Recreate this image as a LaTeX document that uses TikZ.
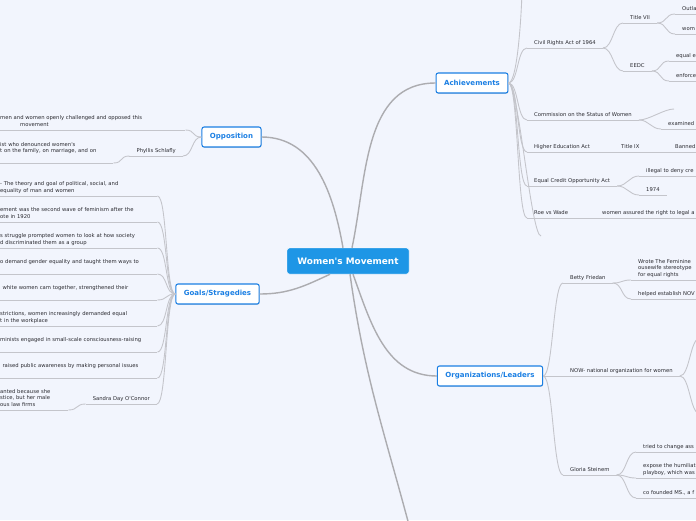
\documentclass[tikz,border=0pt]{standalone}
\usepackage{fontspec}
\usepackage{tikz}
\usetikzlibrary{shadows}
\newfontfamily\dejavu{DejaVu Sans}
\definecolor{bgcol}{RGB}{242,245,253}
\definecolor{rootcol}{RGB}{30,150,230}
\definecolor{bluecol}{RGB}{27,127,227}
\definecolor{txtcol}{RGB}{42,42,48}
\definecolor{maincol}{RGB}{172,172,176}
\definecolor{subcol}{RGB}{196,197,203}

\begin{document}
\begin{tikzpicture}[x=0.03cm,y=-0.03cm]
\tikzstyle{main}=[draw=maincol,line width=1.2pt]
\tikzstyle{sub}=[draw=subcol,line width=0.75pt]
\tikzstyle{rcurve}=[out=0,in=180,distance=0.3cm]
\tikzstyle{lcurve}=[out=180,in=0,distance=0.3cm]
\tikzstyle{root}=[fill=rootcol,draw=white,line width=0.4pt,rounded corners=2pt,text=white,font=\dejavu\bfseries\fontsize{7.6}{8}\selectfont,minimum width=3.66cm,minimum height=0.78cm]
\tikzstyle{branch}=[draw=bluecol,line width=0.9pt,fill=white,rounded corners=1.8pt,text=bluecol,font=\dejavu\bfseries\fontsize{6}{7}\selectfont,inner xsep=0.24cm,minimum height=0.6cm,drop shadow={shadow xshift=0.4pt,shadow yshift=-0.7pt,opacity=0.25}]
\tikzstyle{leaf}=[anchor=south west,font=\dejavu\fontsize{4.5}{5.4}\selectfont,text=txtcol,align=left,inner xsep=0.21cm,inner ysep=1.5pt,execute at end node=\strut,append after command={(\tikzlastnode.south west) edge[sub] (\tikzlastnode.south east)}]
\tikzstyle{rleaf}=[leaf,anchor=south east]
\tikzstyle{wleaf}=[leaf,inner xsep=0pt,text width=#1]

\useasboundingbox (0,0) rectangle (696,520);
\fill[bgcol] (0,0) rectangle (696,520);

\node[root](R) at(348,261){Women\textquotesingle s Movement};
\node[branch](O) at(231.5,137){Opposition};
\node[branch](G) at(217.5,294){Goals/Stragedies};
\node[branch](A) at(472,83){Achievements};
\node[branch](L) at(490,376){Organizations/Leaders};
\coordinate (bot) at(409,525);

\node[leaf](civ) at(527,48){Civil Rights Act of 1964};
\node[leaf](t7) at(623,23){Title VII};
\node[leaf](outla) at(675,14){Outla};
\node[leaf](wom) at(675,34){wom};
\node[leaf](eedc) at(623,71){EEDC};
\node[leaf](equal) at(669,61){equal e};
\node[leaf](enforce) at(669,81){enforce};
\node[leaf](com) at(527,120){Commission on the Status of Women};
\coordinate (comtop) at(674,109);
\node[leaf](exam) at(661,129){examined};
\node[leaf](hea) at(527,152){Higher Education Act};
\node[leaf](t9) at(614,152){Title IX};
\node[leaf](banned) at(668,152){Banned};
\node[leaf](eco) at(527,186){Equal Credit Opportunity Act};
\node[leaf](illegal) at(639,176){illegal to deny cre};
\node[leaf](y1974) at(639,195){1974};
\node[leaf](roe) at(527,218){Roe vs Wade};
\node[leaf](assured) at(595,218){women assured the right to legal a};
\coordinate (achtop) at(522,-10);
\coordinate (achend) at(541,236);

\node[leaf](betty) at(563,283){Betty Friedan};
\node[leaf](wrote) at(631,280){Wrote The Feminine\\ousewife stereotype\\for equal rights};
\node[leaf](helped) at(631,299){helped establish NOV};
\node[leaf](now) at(563,376){NOW- national organization for women};
\coordinate (nowup) at(700,338);
\coordinate (nowdn) at(700,414);
\node[leaf](gloria) at(563,475){Gloria Steinem};
\node[leaf](tried) at(636,452){tried to change ass};
\node[leaf](expose) at(636,478){expose the humiliat\\playboy, which was};
\node[leaf](cofound) at(636,498){co founded MS., a f};

\node[wleaf=5.55cm](o1) at(0,130){men and women openly challenged and opposed this\\\hspace*{0.6cm}movement};
\node[rleaf](phyl) at(183,156){Phyllis Schlafly};
\node[wleaf=3.39cm](o2) at(0,163){ist who denounced women\textquotesingle s\\t on the family, on marriage, and on\\\mbox{}};

\node[wleaf=4.71cm](g1) at(0,196){- The theory and goal of political, social, and\\equality of man and women};
\node[wleaf=4.71cm](g2) at(0,222){ement was the second wave of feminism after the\\ote in 1920};
\node[wleaf=4.71cm](g3) at(0,248){s struggle prompted women to look at how society\\d discriminated them as a group};
\node[wleaf=4.71cm](g4) at(0,274){o demand gender equality and taught them ways to\\\mbox{}};
\node[wleaf=4.71cm](g5) at(0,300){\hspace*{2pt}white women cam together, strengthened their\\\mbox{}};
\node[wleaf=4.71cm](g6) at(0,326){strictions, women increasingly demanded equal\\t in the workplace};
\node[wleaf=4.71cm](g7) at(0,352){minists engaged in small-scale consciousness-raising\\\mbox{}};
\node[wleaf=4.71cm](g8) at(0,378){\hspace*{2pt}raised public awareness by making personal issues\\\mbox{}};
\node[rleaf](sdo) at(157,404){Sandra Day O\textquotesingle Connor};
\node[wleaf=2.04cm](sdo1) at(0,410){anted because she\\stice, but her male\\ous law firms};

\draw[main] ([xshift=-0.15cm]R.north) to[out=100,in=0] (O.east);
\draw[main] ([xshift=0.12cm]R.north) to[out=78,in=180] (A.west);
\draw[main] ([xshift=-0.54cm]R.south) to[out=205,in=0] (G.east);
\draw[main] ([xshift=0.15cm]R.south) to[out=-70,in=180] (L.west);
\draw[main] ([xshift=0.06cm]R.south) to[out=-82,in=105] (bot);

\draw[sub] (A.east) to[out=0,in=-90,distance=0.3cm] (achtop);
\draw[sub] (A.east) to[rcurve] (civ.south west);
\draw[sub] (A.east) to[rcurve] (com.south west);
\draw[sub] (A.east) to[rcurve] (hea.south west);
\draw[sub] (A.east) to[rcurve] (eco.south west);
\draw[sub] (A.east) to[rcurve] (roe.south west);
\draw[sub] (A.east) to[rcurve] (achend);
\draw[sub] (civ.south east) to[rcurve] (t7.south west);
\draw[sub] (civ.south east) to[rcurve] (eedc.south west);
\draw[sub] (t7.south east) to[rcurve] (outla.south west);
\draw[sub] (t7.south east) to[rcurve] (wom.south west);
\draw[sub] (eedc.south east) to[rcurve] (equal.south west);
\draw[sub] (eedc.south east) to[rcurve] (enforce.south west);
\draw[sub] (com.south east) to[rcurve] (comtop);
\draw[sub] (com.south east) to[rcurve] (exam.south west);
\draw[sub] (hea.south east) -- (t9.south west);
\draw[sub] (t9.south east) -- (banned.south west);
\draw[sub] (eco.south east) to[rcurve] (illegal.south west);
\draw[sub] (eco.south east) to[rcurve] (y1974.south west);
\draw[sub] (roe.south east) -- (assured.south west);

\draw[sub] (L.east) to[rcurve] (betty.south west);
\draw[sub] (L.east) -- (now.south west);
\draw[sub] (L.east) to[rcurve] (gloria.south west);
\draw[sub] (betty.south east) to[rcurve] (wrote.south west);
\draw[sub] (betty.south east) to[rcurve] (helped.south west);
\draw[sub] (now.south east) to[rcurve] (nowup);
\draw[sub] (now.south east) to[rcurve] (nowdn);
\draw[sub] (gloria.south east) to[rcurve] (tried.south west);
\draw[sub] (gloria.south east) to[rcurve] (expose.south west);
\draw[sub] (gloria.south east) to[rcurve] (cofound.south west);

\draw[sub] (O.west) to[lcurve] (o1.south east);
\draw[sub] (O.west) to[lcurve] (phyl.south east);
\draw[sub] (phyl.south west) to[lcurve] (o2.south east);

\draw[sub] (G.west) to[lcurve] (g1.south east);
\draw[sub] (G.west) to[lcurve] (g2.south east);
\draw[sub] (G.west) to[lcurve] (g3.south east);
\draw[sub] (G.west) to[lcurve] (g4.south east);
\draw[sub] (G.west) to[lcurve] (g5.south east);
\draw[sub] (G.west) to[lcurve] (g6.south east);
\draw[sub] (G.west) to[lcurve] (g7.south east);
\draw[sub] (G.west) to[lcurve] (g8.south east);
\draw[sub] (G.west) to[lcurve] (sdo.south east);
\draw[sub] (sdo.south west) to[lcurve] (sdo1.south east);
\end{tikzpicture}
\end{document}
